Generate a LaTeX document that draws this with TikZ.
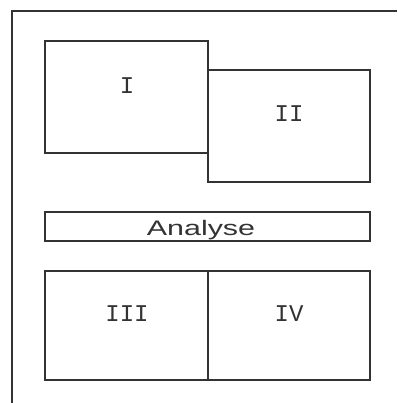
\documentclass[tikz,border=0pt]{standalone}
\usepackage{fontspec}
\setmainfont{Liberation Sans}
\newfontfamily\monofnt{Liberation Mono}
\begin{document}
\begin{tikzpicture}[x=1pt,y=-1pt,
  box/.style={draw=black!80,line width=1.1pt,rectangle,inner sep=0pt,minimum width=#1},
  numtxt/.style={font=\monofnt\fontsize{24}{24}\selectfont,text=black!80,inner sep=0pt},
  frameline/.style={draw=black!80,line width=1.1pt}]
\useasboundingbox (0,0) rectangle (397,403);
\coordinate (fr) at (397,11);
\coordinate (fc) at (12,11);
\coordinate (fb) at (12,403);
\draw[frameline] (fr) -- (fc) -- (fb);
\node[box=163pt,minimum height=112pt] (b1) at (126.5,97) {};
\node[box=162pt,minimum height=112pt] (b2) at (289,126) {};
\node[box=325pt,minimum height=29pt] (ana) at (207.5,226.5) {};
\node[box=163pt,minimum height=109pt] (b3) at (126.5,325.5) {};
\node[box=162pt,minimum height=109pt] (b4) at (289,325.5) {};
\node[numtxt] (t1) at (127,86) {I};
\node[numtxt] (t2) at (289,114) {II};
\node[numtxt] (t3) at (127,314) {III};
\node[numtxt] (t4) at (289,314) {IV};
\node[inner sep=0pt,text=black!80,font=\fontsize{21}{21}\selectfont] (ta) at (201,230) {\scalebox{1.45}[1]{Analyse}};
\end{tikzpicture}
\end{document}
